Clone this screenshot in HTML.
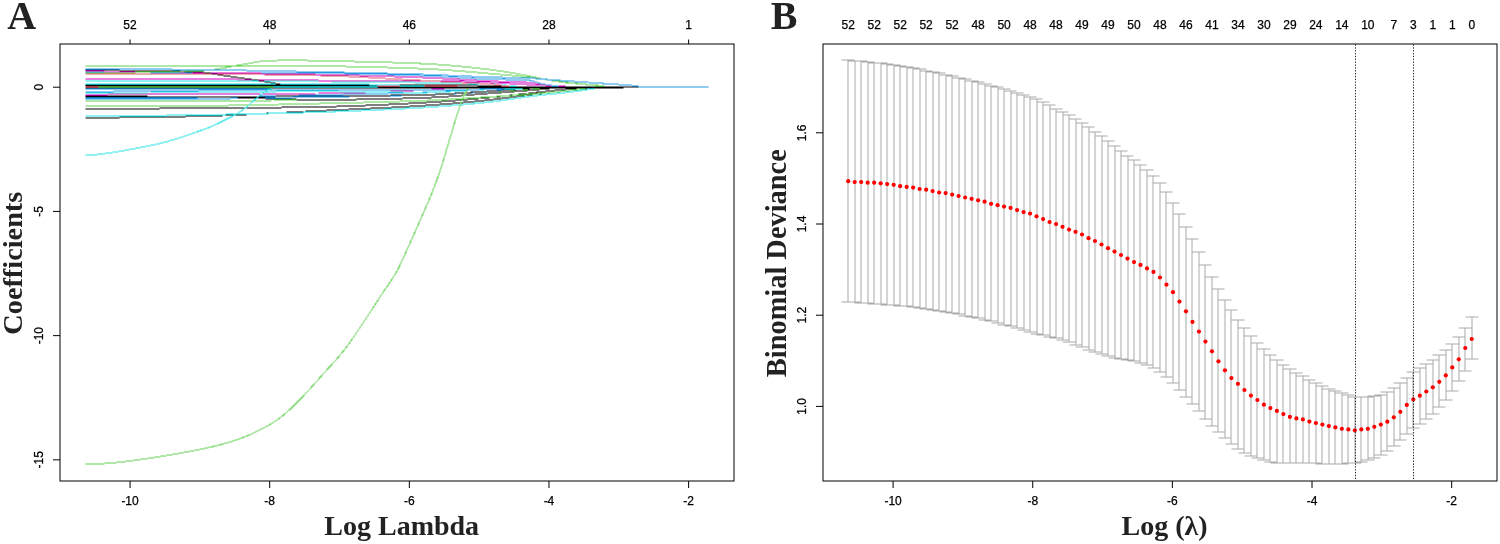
<!DOCTYPE html>
<html><head><meta charset="utf-8"><title>LASSO coefficient profiles and cross-validation</title>
<style>html,body{margin:0;padding:0;background:#fff;}svg{display:block;}</style></head>
<body>
<svg width="1500" height="544" viewBox="0 0 1500 544">
<rect x="0" y="0" width="1500" height="544" fill="#fff"/>
<defs><filter id="bx" filterUnits="userSpaceOnUse" x="0" y="0" width="1500" height="544"><feConvolveMatrix order="2" kernelMatrix="1 1 1 1" divisor="4" targetX="1" targetY="1" edgeMode="none"/></filter></defs>
<g fill="none" stroke-width="1" shape-rendering="crispEdges" filter="url(#bx)"><g transform="translate(-0.5 -0.5)">
<path d="M85.14 118 L91.63 117.9 L98.13 117.81 L104.62 117.72 L111.12 117.63 L117.62 117.54 L124.11 117.45 L130.61 117.37 L137.1 117.28 L143.6 117.19 L150.09 117.1 L156.59 117.01 L163.08 116.91 L169.58 116.8 L176.08 116.69 L182.57 116.57 L189.07 116.44 L195.56 116.3 L202.06 116.15 L208.55 115.98 L215.05 115.78 L221.55 115.55 L228.04 115.31 L234.54 115.04 L241.03 114.76 L247.53 114.46 L254.02 114.15 L260.52 113.83 L267.02 113.5 L273.51 113.17 L280.01 112.83 L286.5 112.49 L293 112.15 L299.49 111.81 L305.99 111.48 L312.48 111.16 L318.98 110.85 L325.48 110.55 L331.97 110.25 L338.47 109.96 L344.96 109.67 L351.46 109.39 L357.95 109.1 L364.45 108.81 L370.95 108.51 L377.44 108.21 L383.94 107.9 L390.43 107.57 L396.93 107.24 L403.42 106.88 L409.92 106.51 L416.41 106.12 L422.91 105.71 L429.41 105.27 L435.9 104.8 L442.4 104.3 L448.89 103.78 L455.39 103.23 L461.88 102.65 L468.38 102.05 L474.88 101.43 L481.37 100.78 L487.87 100.12 L494.36 99.42 L500.86 98.63 L507.35 97.77 L513.85 96.89 L520.34 96.01 L526.84 95.18 L533.34 94.41 L539.83 93.68 L546.33 92.96 L552.82 92.27 L559.32 91.59 L565.81 90.92 L572.31 90.26 L578.81 89.48 L585.3 88.67 L591.8 87.94 L598.29 87.41 L604.79 87.2 L611.28 87.2 L617.78 87.2 L624.27 87.2 L630.77 87.2 L637.27 87.2 L643.76 87.2 L650.26 87.2 L656.75 87.2 L663.25 87.2 L669.74 87.2 L676.24 87.2 L682.74 87.2 L689.23 87.2 L695.73 87.2 L702.22 87.2 L708.72 87.2" stroke="#000000"/>
<path d="M85.14 116.5 L91.63 116.42 L98.13 116.34 L104.62 116.26 L111.12 116.18 L117.62 116.1 L124.11 116.03 L130.61 115.95 L137.1 115.87 L143.6 115.8 L150.09 115.72 L156.59 115.64 L163.08 115.55 L169.58 115.46 L176.08 115.37 L182.57 115.28 L189.07 115.18 L195.56 115.07 L202.06 114.96 L208.55 114.85 L215.05 114.73 L221.55 114.6 L228.04 114.46 L234.54 114.32 L241.03 114.18 L247.53 114.03 L254.02 113.87 L260.52 113.71 L267.02 113.54 L273.51 113.37 L280.01 113.19 L286.5 113.01 L293 112.82 L299.49 112.63 L305.99 112.44 L312.48 112.24 L318.98 112.03 L325.48 111.82 L331.97 111.61 L338.47 111.38 L344.96 111.15 L351.46 110.91 L357.95 110.66 L364.45 110.4 L370.95 110.13 L377.44 109.85 L383.94 109.56 L390.43 109.26 L396.93 108.94 L403.42 108.61 L409.92 108.26 L416.41 107.9 L422.91 107.53 L429.41 107.12 L435.9 106.69 L442.4 106.22 L448.89 105.72 L455.39 105.19 L461.88 104.63 L468.38 104.04 L474.88 103.43 L481.37 102.79 L487.87 102.12 L494.36 101.4 L500.86 100.56 L507.35 99.63 L513.85 98.66 L520.34 97.7 L526.84 96.8 L533.34 96 L539.83 95.25 L546.33 94.54 L552.82 93.85 L559.32 93.16 L565.81 92.46 L572.31 91.73 L578.81 90.84 L585.3 89.86 L591.8 88.9 L598.29 88.06 L604.79 87.46 L611.28 87.2 L617.78 87.2 L624.27 87.2 L630.77 87.2 L637.27 87.2 L643.76 87.2 L650.26 87.2 L656.75 87.2 L663.25 87.2 L669.74 87.2 L676.24 87.2 L682.74 87.2 L689.23 87.2 L695.73 87.2 L702.22 87.2 L708.72 87.2" stroke="#28E2E5"/>
<path d="M85.14 108.8 L91.63 108.77 L98.13 108.75 L104.62 108.72 L111.12 108.7 L117.62 108.67 L124.11 108.65 L130.61 108.62 L137.1 108.6 L143.6 108.57 L150.09 108.55 L156.59 108.52 L163.08 108.49 L169.58 108.46 L176.08 108.43 L182.57 108.4 L189.07 108.37 L195.56 108.33 L202.06 108.29 L208.55 108.24 L215.05 108.2 L221.55 108.15 L228.04 108.09 L234.54 108.04 L241.03 107.98 L247.53 107.91 L254.02 107.85 L260.52 107.77 L267.02 107.7 L273.51 107.62 L280.01 107.53 L286.5 107.44 L293 107.35 L299.49 107.25 L305.99 107.14 L312.48 107.03 L318.98 106.92 L325.48 106.79 L331.97 106.64 L338.47 106.46 L344.96 106.27 L351.46 106.05 L357.95 105.82 L364.45 105.57 L370.95 105.3 L377.44 105.02 L383.94 104.72 L390.43 104.42 L396.93 104.1 L403.42 103.77 L409.92 103.43 L416.41 103.09 L422.91 102.74 L429.41 102.35 L435.9 101.93 L442.4 101.48 L448.89 101 L455.39 100.49 L461.88 99.96 L468.38 99.41 L474.88 98.85 L481.37 98.27 L487.87 97.69 L494.36 97.09 L500.86 96.45 L507.35 95.77 L513.85 95.07 L520.34 94.35 L526.84 93.64 L533.34 92.93 L539.83 92.18 L546.33 91.42 L552.82 90.69 L559.32 90.06 L565.81 89.47 L572.31 88.86 L578.81 88.27 L585.3 87.76 L591.8 87.39 L598.29 87.21 L604.79 87.2 L611.28 87.2 L617.78 87.2 L624.27 87.2 L630.77 87.2 L637.27 87.2 L643.76 87.2 L650.26 87.2 L656.75 87.2 L663.25 87.2 L669.74 87.2 L676.24 87.2 L682.74 87.2 L689.23 87.2 L695.73 87.2 L702.22 87.2 L708.72 87.2" stroke="#000000"/>
<path d="M85.14 105.6 L91.63 105.61 L98.13 105.61 L104.62 105.62 L111.12 105.63 L117.62 105.63 L124.11 105.64 L130.61 105.65 L137.1 105.66 L143.6 105.66 L150.09 105.67 L156.59 105.68 L163.08 105.68 L169.58 105.69 L176.08 105.69 L182.57 105.7 L189.07 105.7 L195.56 105.7 L202.06 105.7 L208.55 105.68 L215.05 105.64 L221.55 105.58 L228.04 105.51 L234.54 105.41 L241.03 105.31 L247.53 105.19 L254.02 105.06 L260.52 104.92 L267.02 104.77 L273.51 104.62 L280.01 104.46 L286.5 104.3 L293 104.14 L299.49 103.98 L305.99 103.82 L312.48 103.67 L318.98 103.52 L325.48 103.38 L331.97 103.24 L338.47 103.09 L344.96 102.94 L351.46 102.79 L357.95 102.64 L364.45 102.48 L370.95 102.32 L377.44 102.14 L383.94 101.96 L390.43 101.78 L396.93 101.58 L403.42 101.38 L409.92 101.16 L416.41 100.93 L422.91 100.69 L429.41 100.41 L435.9 100.11 L442.4 99.77 L448.89 99.42 L455.39 99.04 L461.88 98.65 L468.38 98.25 L474.88 97.84 L481.37 97.44 L487.87 97.03 L494.36 96.63 L500.86 96.23 L507.35 95.82 L513.85 95.4 L520.34 94.97 L526.84 94.51 L533.34 94.03 L539.83 93.51 L546.33 92.94 L552.82 92.3 L559.32 91.62 L565.81 90.93 L572.31 90.25 L578.81 89.42 L585.3 88.54 L591.8 87.77 L598.29 87.28 L604.79 87.2 L611.28 87.2 L617.78 87.2 L624.27 87.2 L630.77 87.2 L637.27 87.2 L643.76 87.2 L650.26 87.2 L656.75 87.2 L663.25 87.2 L669.74 87.2 L676.24 87.2 L682.74 87.2 L689.23 87.2 L695.73 87.2 L702.22 87.2 L708.72 87.2" stroke="#61D04F"/>
<path d="M85.14 101.3 L91.63 101.28 L98.13 101.27 L104.62 101.25 L111.12 101.24 L117.62 101.22 L124.11 101.21 L130.61 101.2 L137.1 101.18 L143.6 101.17 L150.09 101.15 L156.59 101.14 L163.08 101.12 L169.58 101.1 L176.08 101.08 L182.57 101.06 L189.07 101.04 L195.56 101.02 L202.06 100.99 L208.55 100.96 L215.05 100.93 L221.55 100.9 L228.04 100.86 L234.54 100.81 L241.03 100.77 L247.53 100.72 L254.02 100.67 L260.52 100.61 L267.02 100.56 L273.51 100.5 L280.01 100.44 L286.5 100.37 L293 100.3 L299.49 100.23 L305.99 100.16 L312.48 100.09 L318.98 100.01 L325.48 99.93 L331.97 99.85 L338.47 99.76 L344.96 99.67 L351.46 99.57 L357.95 99.46 L364.45 99.35 L370.95 99.23 L377.44 99.1 L383.94 98.96 L390.43 98.81 L396.93 98.66 L403.42 98.49 L409.92 98.31 L416.41 98.11 L422.91 97.9 L429.41 97.63 L435.9 97.29 L442.4 96.91 L448.89 96.48 L455.39 96.02 L461.88 95.52 L468.38 95.02 L474.88 94.5 L481.37 93.98 L487.87 93.47 L494.36 92.95 L500.86 92.41 L507.35 91.84 L513.85 91.25 L520.34 90.66 L526.84 90.08 L533.34 89.48 L539.83 88.76 L546.33 88.03 L552.82 87.46 L559.32 87.2 L565.81 87.2 L572.31 87.2 L578.81 87.2 L585.3 87.2 L591.8 87.2 L598.29 87.2 L604.79 87.2 L611.28 87.2 L617.78 87.2 L624.27 87.2 L630.77 87.2 L637.27 87.2 L643.76 87.2 L650.26 87.2 L656.75 87.2 L663.25 87.2 L669.74 87.2 L676.24 87.2 L682.74 87.2 L689.23 87.2 L695.73 87.2 L702.22 87.2 L708.72 87.2" stroke="#61D04F"/>
<path d="M85.14 99.2 L91.63 99.18 L98.13 99.16 L104.62 99.14 L111.12 99.12 L117.62 99.1 L124.11 99.08 L130.61 99.06 L137.1 99.05 L143.6 99.03 L150.09 99.01 L156.59 98.99 L163.08 98.97 L169.58 98.94 L176.08 98.92 L182.57 98.89 L189.07 98.86 L195.56 98.82 L202.06 98.79 L208.55 98.74 L215.05 98.69 L221.55 98.62 L228.04 98.54 L234.54 98.46 L241.03 98.37 L247.53 98.27 L254.02 98.17 L260.52 98.07 L267.02 97.95 L273.51 97.84 L280.01 97.72 L286.5 97.6 L293 97.49 L299.49 97.37 L305.99 97.25 L312.48 97.13 L318.98 97.02 L325.48 96.91 L331.97 96.8 L338.47 96.69 L344.96 96.59 L351.46 96.48 L357.95 96.37 L364.45 96.26 L370.95 96.14 L377.44 96.02 L383.94 95.89 L390.43 95.75 L396.93 95.61 L403.42 95.45 L409.92 95.28 L416.41 95.1 L422.91 94.91 L429.41 94.7 L435.9 94.46 L442.4 94.19 L448.89 93.9 L455.39 93.58 L461.88 93.23 L468.38 92.84 L474.88 92.42 L481.37 91.96 L487.87 91.47 L494.36 90.81 L500.86 89.72 L507.35 88.52 L513.85 87.57 L520.34 87.2 L526.84 87.2 L533.34 87.2 L539.83 87.2 L546.33 87.2 L552.82 87.2 L559.32 87.2 L565.81 87.2 L572.31 87.2 L578.81 87.2 L585.3 87.2 L591.8 87.2 L598.29 87.2 L604.79 87.2 L611.28 87.2 L617.78 87.2 L624.27 87.2 L630.77 87.2 L637.27 87.2 L643.76 87.2 L650.26 87.2 L656.75 87.2 L663.25 87.2 L669.74 87.2 L676.24 87.2 L682.74 87.2 L689.23 87.2 L695.73 87.2 L702.22 87.2 L708.72 87.2" stroke="#2297E6"/>
<path d="M85.14 98 L91.63 97.97 L98.13 97.95 L104.62 97.92 L111.12 97.9 L117.62 97.88 L124.11 97.85 L130.61 97.83 L137.1 97.81 L143.6 97.79 L150.09 97.76 L156.59 97.74 L163.08 97.71 L169.58 97.68 L176.08 97.65 L182.57 97.61 L189.07 97.57 L195.56 97.53 L202.06 97.48 L208.55 97.42 L215.05 97.35 L221.55 97.25 L228.04 97.15 L234.54 97.03 L241.03 96.9 L247.53 96.76 L254.02 96.62 L260.52 96.47 L267.02 96.31 L273.51 96.15 L280.01 95.98 L286.5 95.82 L293 95.65 L299.49 95.49 L305.99 95.33 L312.48 95.17 L318.98 95.02 L325.48 94.88 L331.97 94.74 L338.47 94.6 L344.96 94.47 L351.46 94.34 L357.95 94.2 L364.45 94.06 L370.95 93.92 L377.44 93.78 L383.94 93.62 L390.43 93.46 L396.93 93.29 L403.42 93.11 L409.92 92.92 L416.41 92.72 L422.91 92.5 L429.41 92.25 L435.9 91.97 L442.4 91.66 L448.89 91.33 L455.39 90.98 L461.88 90.61 L468.38 90.22 L474.88 89.82 L481.37 89.41 L487.87 88.84 L494.36 88.18 L500.86 87.59 L507.35 87.24 L513.85 87.2 L520.34 87.2 L526.84 87.2 L533.34 87.2 L539.83 87.2 L546.33 87.2 L552.82 87.2 L559.32 87.2 L565.81 87.2 L572.31 87.2 L578.81 87.2 L585.3 87.2 L591.8 87.2 L598.29 87.2 L604.79 87.2 L611.28 87.2 L617.78 87.2 L624.27 87.2 L630.77 87.2 L637.27 87.2 L643.76 87.2 L650.26 87.2 L656.75 87.2 L663.25 87.2 L669.74 87.2 L676.24 87.2 L682.74 87.2 L689.23 87.2 L695.73 87.2 L702.22 87.2 L708.72 87.2" stroke="#2297E6"/>
<path d="M85.14 97.1 L91.63 97.08 L98.13 97.06 L104.62 97.04 L111.12 97.02 L117.62 97 L124.11 96.98 L130.61 96.95 L137.1 96.93 L143.6 96.91 L150.09 96.89 L156.59 96.87 L163.08 96.85 L169.58 96.84 L176.08 96.82 L182.57 96.81 L189.07 96.81 L195.56 96.8 L202.06 96.8 L208.55 96.84 L215.05 96.93 L221.55 97.06 L228.04 97.21 L234.54 97.4 L241.03 97.61 L247.53 97.84 L254.02 98.08 L260.52 98.32 L267.02 98.56 L273.51 98.8 L280.01 99.02 L286.5 99.23 L293 99.41 L299.49 99.57 L305.99 99.69 L312.48 99.77 L318.98 99.8 L325.48 99.79 L331.97 99.77 L338.47 99.72 L344.96 99.66 L351.46 99.58 L357.95 99.48 L364.45 99.37 L370.95 99.25 L377.44 99.11 L383.94 98.97 L390.43 98.81 L396.93 98.64 L403.42 98.47 L409.92 98.29 L416.41 98.1 L422.91 97.91 L429.41 97.64 L435.9 97.3 L442.4 96.91 L448.89 96.47 L455.39 95.99 L461.88 95.49 L468.38 94.97 L474.88 94.45 L481.37 93.94 L487.87 93.45 L494.36 92.99 L500.86 92.52 L507.35 92.05 L513.85 91.56 L520.34 91.07 L526.84 90.57 L533.34 90.05 L539.83 89.51 L546.33 88.84 L552.82 88.05 L559.32 87.42 L565.81 87.2 L572.31 87.2 L578.81 87.2 L585.3 87.2 L591.8 87.2 L598.29 87.2 L604.79 87.2 L611.28 87.2 L617.78 87.2 L624.27 87.2 L630.77 87.2 L637.27 87.2 L643.76 87.2 L650.26 87.2 L656.75 87.2 L663.25 87.2 L669.74 87.2 L676.24 87.2 L682.74 87.2 L689.23 87.2 L695.73 87.2 L702.22 87.2 L708.72 87.2" stroke="#000000"/>
<path d="M85.14 95.9 L91.63 95.95 L98.13 96.01 L104.62 96.07 L111.12 96.14 L117.62 96.21 L124.11 96.27 L130.61 96.34 L137.1 96.41 L143.6 96.47 L150.09 96.53 L156.59 96.59 L163.08 96.64 L169.58 96.69 L176.08 96.73 L182.57 96.76 L189.07 96.78 L195.56 96.8 L202.06 96.8 L208.55 96.8 L215.05 96.79 L221.55 96.77 L228.04 96.75 L234.54 96.73 L241.03 96.7 L247.53 96.67 L254.02 96.64 L260.52 96.6 L267.02 96.57 L273.51 96.53 L280.01 96.48 L286.5 96.44 L293 96.39 L299.49 96.35 L305.99 96.3 L312.48 96.25 L318.98 96.21 L325.48 96.16 L331.97 96.11 L338.47 96.06 L344.96 96.01 L351.46 95.95 L357.95 95.89 L364.45 95.82 L370.95 95.75 L377.44 95.68 L383.94 95.6 L390.43 95.51 L396.93 95.41 L403.42 95.31 L409.92 95.19 L416.41 95.07 L422.91 94.93 L429.41 94.74 L435.9 94.49 L442.4 94.19 L448.89 93.85 L455.39 93.48 L461.88 93.09 L468.38 92.68 L474.88 92.26 L481.37 91.84 L487.87 91.43 L494.36 91.02 L500.86 90.59 L507.35 90.12 L513.85 89.65 L520.34 89.18 L526.84 88.72 L533.34 88.25 L539.83 87.7 L546.33 87.28 L552.82 87.2 L559.32 87.2 L565.81 87.2 L572.31 87.2 L578.81 87.2 L585.3 87.2 L591.8 87.2 L598.29 87.2 L604.79 87.2 L611.28 87.2 L617.78 87.2 L624.27 87.2 L630.77 87.2 L637.27 87.2 L643.76 87.2 L650.26 87.2 L656.75 87.2 L663.25 87.2 L669.74 87.2 L676.24 87.2 L682.74 87.2 L689.23 87.2 L695.73 87.2 L702.22 87.2 L708.72 87.2" stroke="#000000"/>
<path d="M85.14 94.7 L91.63 94.65 L98.13 94.59 L104.62 94.54 L111.12 94.48 L117.62 94.42 L124.11 94.36 L130.61 94.3 L137.1 94.24 L143.6 94.18 L150.09 94.13 L156.59 94.07 L163.08 94.02 L169.58 93.97 L176.08 93.93 L182.57 93.89 L189.07 93.85 L195.56 93.82 L202.06 93.79 L208.55 93.77 L215.05 93.75 L221.55 93.73 L228.04 93.72 L234.54 93.71 L241.03 93.7 L247.53 93.68 L254.02 93.67 L260.52 93.66 L267.02 93.65 L273.51 93.64 L280.01 93.63 L286.5 93.61 L293 93.6 L299.49 93.58 L305.99 93.56 L312.48 93.53 L318.98 93.5 L325.48 93.46 L331.97 93.38 L338.47 93.27 L344.96 93.12 L351.46 92.95 L357.95 92.76 L364.45 92.54 L370.95 92.3 L377.44 92.05 L383.94 91.79 L390.43 91.51 L396.93 91.23 L403.42 90.94 L409.92 90.65 L416.41 90.36 L422.91 90.06 L429.41 89.65 L435.9 89.16 L442.4 88.63 L448.89 88.13 L455.39 87.69 L461.88 87.36 L468.38 87.21 L474.88 87.2 L481.37 87.2 L487.87 87.2 L494.36 87.2 L500.86 87.2 L507.35 87.2 L513.85 87.2 L520.34 87.2 L526.84 87.2 L533.34 87.2 L539.83 87.2 L546.33 87.2 L552.82 87.2 L559.32 87.2 L565.81 87.2 L572.31 87.2 L578.81 87.2 L585.3 87.2 L591.8 87.2 L598.29 87.2 L604.79 87.2 L611.28 87.2 L617.78 87.2 L624.27 87.2 L630.77 87.2 L637.27 87.2 L643.76 87.2 L650.26 87.2 L656.75 87.2 L663.25 87.2 L669.74 87.2 L676.24 87.2 L682.74 87.2 L689.23 87.2 L695.73 87.2 L702.22 87.2 L708.72 87.2" stroke="#CD0BBC"/>
<path d="M85.14 93.3 L91.63 93.22 L98.13 93.15 L104.62 93.07 L111.12 92.99 L117.62 92.9 L124.11 92.82 L130.61 92.74 L137.1 92.66 L143.6 92.57 L150.09 92.5 L156.59 92.42 L163.08 92.34 L169.58 92.27 L176.08 92.21 L182.57 92.14 L189.07 92.08 L195.56 92.03 L202.06 91.99 L208.55 91.94 L215.05 91.89 L221.55 91.85 L228.04 91.8 L234.54 91.76 L241.03 91.71 L247.53 91.67 L254.02 91.63 L260.52 91.59 L267.02 91.56 L273.51 91.52 L280.01 91.49 L286.5 91.47 L293 91.44 L299.49 91.43 L305.99 91.41 L312.48 91.4 L318.98 91.4 L325.48 91.41 L331.97 91.45 L338.47 91.51 L344.96 91.59 L351.46 91.68 L357.95 91.79 L364.45 91.9 L370.95 92.02 L377.44 92.13 L383.94 92.24 L390.43 92.35 L396.93 92.44 L403.42 92.51 L409.92 92.57 L416.41 92.6 L422.91 92.59 L429.41 92.47 L435.9 92.26 L442.4 91.96 L448.89 91.6 L455.39 91.2 L461.88 90.79 L468.38 90.38 L474.88 89.99 L481.37 89.65 L487.87 89.37 L494.36 89.17 L500.86 89.01 L507.35 88.86 L513.85 88.72 L520.34 88.57 L526.84 88.4 L533.34 88.16 L539.83 87.81 L546.33 87.44 L552.82 87.22 L559.32 87.2 L565.81 87.2 L572.31 87.2 L578.81 87.2 L585.3 87.2 L591.8 87.2 L598.29 87.2 L604.79 87.2 L611.28 87.2 L617.78 87.2 L624.27 87.2 L630.77 87.2 L637.27 87.2 L643.76 87.2 L650.26 87.2 L656.75 87.2 L663.25 87.2 L669.74 87.2 L676.24 87.2 L682.74 87.2 L689.23 87.2 L695.73 87.2 L702.22 87.2 L708.72 87.2" stroke="#28E2E5"/>
<path d="M85.14 91.9 L91.63 91.82 L98.13 91.73 L104.62 91.64 L111.12 91.55 L117.62 91.45 L124.11 91.35 L130.61 91.26 L137.1 91.16 L143.6 91.07 L150.09 90.98 L156.59 90.89 L163.08 90.81 L169.58 90.74 L176.08 90.67 L182.57 90.61 L189.07 90.56 L195.56 90.52 L202.06 90.49 L208.55 90.46 L215.05 90.44 L221.55 90.41 L228.04 90.39 L234.54 90.37 L241.03 90.34 L247.53 90.32 L254.02 90.3 L260.52 90.29 L267.02 90.27 L273.51 90.25 L280.01 90.24 L286.5 90.23 L293 90.22 L299.49 90.21 L305.99 90.21 L312.48 90.2 L318.98 90.2 L325.48 90.2 L331.97 90.2 L338.47 90.2 L344.96 90.2 L351.46 90.2 L357.95 90.2 L364.45 90.2 L370.95 90.2 L377.44 90.2 L383.94 90.2 L390.43 90.2 L396.93 90.2 L403.42 90.2 L409.92 90.2 L416.41 90.2 L422.91 90.2 L429.41 90.18 L435.9 90.14 L442.4 90.09 L448.89 90.02 L455.39 89.94 L461.88 89.84 L468.38 89.73 L474.88 89.61 L481.37 89.48 L487.87 89.35 L494.36 89.15 L500.86 88.79 L507.35 88.34 L513.85 87.87 L520.34 87.47 L526.84 87.23 L533.34 87.2 L539.83 87.2 L546.33 87.2 L552.82 87.2 L559.32 87.2 L565.81 87.2 L572.31 87.2 L578.81 87.2 L585.3 87.2 L591.8 87.2 L598.29 87.2 L604.79 87.2 L611.28 87.2 L617.78 87.2 L624.27 87.2 L630.77 87.2 L637.27 87.2 L643.76 87.2 L650.26 87.2 L656.75 87.2 L663.25 87.2 L669.74 87.2 L676.24 87.2 L682.74 87.2 L689.23 87.2 L695.73 87.2 L702.22 87.2 L708.72 87.2" stroke="#2297E6"/>
<path d="M85.14 89.3 L91.63 89.28 L98.13 89.27 L104.62 89.25 L111.12 89.24 L117.62 89.22 L124.11 89.21 L130.61 89.19 L137.1 89.18 L143.6 89.16 L150.09 89.15 L156.59 89.13 L163.08 89.11 L169.58 89.1 L176.08 89.08 L182.57 89.06 L189.07 89.04 L195.56 89.02 L202.06 88.99 L208.55 88.96 L215.05 88.93 L221.55 88.89 L228.04 88.84 L234.54 88.8 L241.03 88.75 L247.53 88.7 L254.02 88.64 L260.52 88.59 L267.02 88.54 L273.51 88.49 L280.01 88.45 L286.5 88.41 L293 88.37 L299.49 88.34 L305.99 88.32 L312.48 88.31 L318.98 88.3 L325.48 88.3 L331.97 88.3 L338.47 88.3 L344.96 88.3 L351.46 88.3 L357.95 88.3 L364.45 88.3 L370.95 88.3 L377.44 88.3 L383.94 88.3 L390.43 88.3 L396.93 88.3 L403.42 88.3 L409.92 88.3 L416.41 88.3 L422.91 88.29 L429.41 88.23 L435.9 88.11 L442.4 87.95 L448.89 87.78 L455.39 87.6 L461.88 87.44 L468.38 87.31 L474.88 87.22 L481.37 87.2 L487.87 87.2 L494.36 87.2 L500.86 87.2 L507.35 87.2 L513.85 87.2 L520.34 87.2 L526.84 87.2 L533.34 87.2 L539.83 87.2 L546.33 87.2 L552.82 87.2 L559.32 87.2 L565.81 87.2 L572.31 87.2 L578.81 87.2 L585.3 87.2 L591.8 87.2 L598.29 87.2 L604.79 87.2 L611.28 87.2 L617.78 87.2 L624.27 87.2 L630.77 87.2 L637.27 87.2 L643.76 87.2 L650.26 87.2 L656.75 87.2 L663.25 87.2 L669.74 87.2 L676.24 87.2 L682.74 87.2 L689.23 87.2 L695.73 87.2 L702.22 87.2 L708.72 87.2" stroke="#2297E6"/>
<path d="M85.14 87.4 L91.63 87.4 L98.13 87.4 L104.62 87.4 L111.12 87.4 L117.62 87.4 L124.11 87.4 L130.61 87.4 L137.1 87.4 L143.6 87.4 L150.09 87.4 L156.59 87.4 L163.08 87.4 L169.58 87.4 L176.08 87.4 L182.57 87.4 L189.07 87.4 L195.56 87.4 L202.06 87.4 L208.55 87.4 L215.05 87.4 L221.55 87.4 L228.04 87.4 L234.54 87.4 L241.03 87.4 L247.53 87.4 L254.02 87.4 L260.52 87.38 L267.02 87.35 L273.51 87.31 L280.01 87.27 L286.5 87.24 L293 87.21 L299.49 87.2 L305.99 87.2 L312.48 87.2 L318.98 87.2 L325.48 87.2 L331.97 87.2 L338.47 87.2 L344.96 87.2 L351.46 87.2 L357.95 87.2 L364.45 87.2 L370.95 87.2 L377.44 87.2 L383.94 87.2 L390.43 87.2 L396.93 87.2 L403.42 87.2 L409.92 87.2 L416.41 87.2 L422.91 87.2 L429.41 87.2 L435.9 87.2 L442.4 87.2 L448.89 87.2 L455.39 87.2 L461.88 87.2 L468.38 87.2 L474.88 87.2 L481.37 87.2 L487.87 87.2 L494.36 87.2 L500.86 87.2 L507.35 87.2 L513.85 87.2 L520.34 87.2 L526.84 87.2 L533.34 87.2 L539.83 87.2 L546.33 87.2 L552.82 87.2 L559.32 87.2 L565.81 87.2 L572.31 87.2 L578.81 87.2 L585.3 87.2 L591.8 87.2 L598.29 87.2 L604.79 87.2 L611.28 87.2 L617.78 87.2 L624.27 87.2 L630.77 87.2 L637.27 87.2 L643.76 87.2 L650.26 87.2 L656.75 87.2 L663.25 87.2 L669.74 87.2 L676.24 87.2 L682.74 87.2 L689.23 87.2 L695.73 87.2 L702.22 87.2 L708.72 87.2" stroke="#61D04F"/>
<path d="M85.14 86.6 L91.63 86.56 L98.13 86.51 L104.62 86.46 L111.12 86.41 L117.62 86.36 L124.11 86.31 L130.61 86.26 L137.1 86.2 L143.6 86.15 L150.09 86.11 L156.59 86.06 L163.08 86.02 L169.58 85.99 L176.08 85.95 L182.57 85.93 L189.07 85.91 L195.56 85.9 L202.06 85.9 L208.55 85.9 L215.05 85.9 L221.55 85.9 L228.04 85.9 L234.54 85.9 L241.03 85.9 L247.53 85.9 L254.02 85.9 L260.52 85.9 L267.02 85.9 L273.51 85.9 L280.01 85.9 L286.5 85.9 L293 85.9 L299.49 85.9 L305.99 85.9 L312.48 85.9 L318.98 85.9 L325.48 85.9 L331.97 85.9 L338.47 85.9 L344.96 85.9 L351.46 85.9 L357.95 85.9 L364.45 85.9 L370.95 85.9 L377.44 85.9 L383.94 85.9 L390.43 85.9 L396.93 85.9 L403.42 85.9 L409.92 85.9 L416.41 85.9 L422.91 85.91 L429.41 85.95 L435.9 86.03 L442.4 86.15 L448.89 86.29 L455.39 86.44 L461.88 86.6 L468.38 86.75 L474.88 86.9 L481.37 87.02 L487.87 87.12 L494.36 87.18 L500.86 87.2 L507.35 87.2 L513.85 87.2 L520.34 87.2 L526.84 87.2 L533.34 87.2 L539.83 87.2 L546.33 87.2 L552.82 87.2 L559.32 87.2 L565.81 87.2 L572.31 87.2 L578.81 87.2 L585.3 87.2 L591.8 87.2 L598.29 87.2 L604.79 87.2 L611.28 87.2 L617.78 87.2 L624.27 87.2 L630.77 87.2 L637.27 87.2 L643.76 87.2 L650.26 87.2 L656.75 87.2 L663.25 87.2 L669.74 87.2 L676.24 87.2 L682.74 87.2 L689.23 87.2 L695.73 87.2 L702.22 87.2 L708.72 87.2" stroke="#DF536B"/>
<path d="M85.14 85.6 L91.63 85.61 L98.13 85.62 L104.62 85.63 L111.12 85.64 L117.62 85.65 L124.11 85.66 L130.61 85.67 L137.1 85.67 L143.6 85.68 L150.09 85.69 L156.59 85.7 L163.08 85.7 L169.58 85.71 L176.08 85.72 L182.57 85.73 L189.07 85.74 L195.56 85.74 L202.06 85.75 L208.55 85.76 L215.05 85.77 L221.55 85.78 L228.04 85.79 L234.54 85.8 L241.03 85.81 L247.53 85.82 L254.02 85.83 L260.52 85.85 L267.02 85.86 L273.51 85.87 L280.01 85.89 L286.5 85.9 L293 85.92 L299.49 85.94 L305.99 85.96 L312.48 85.98 L318.98 86 L325.48 86.03 L331.97 86.08 L338.47 86.15 L344.96 86.23 L351.46 86.33 L357.95 86.44 L364.45 86.55 L370.95 86.66 L377.44 86.77 L383.94 86.87 L390.43 86.97 L396.93 87.05 L403.42 87.12 L409.92 87.17 L416.41 87.2 L422.91 87.2 L429.41 87.2 L435.9 87.2 L442.4 87.2 L448.89 87.2 L455.39 87.2 L461.88 87.2 L468.38 87.2 L474.88 87.2 L481.37 87.2 L487.87 87.2 L494.36 87.2 L500.86 87.2 L507.35 87.2 L513.85 87.2 L520.34 87.2 L526.84 87.2 L533.34 87.2 L539.83 87.2 L546.33 87.2 L552.82 87.2 L559.32 87.2 L565.81 87.2 L572.31 87.2 L578.81 87.2 L585.3 87.2 L591.8 87.2 L598.29 87.2 L604.79 87.2 L611.28 87.2 L617.78 87.2 L624.27 87.2 L630.77 87.2 L637.27 87.2 L643.76 87.2 L650.26 87.2 L656.75 87.2 L663.25 87.2 L669.74 87.2 L676.24 87.2 L682.74 87.2 L689.23 87.2 L695.73 87.2 L702.22 87.2 L708.72 87.2" stroke="#2297E6"/>
<path d="M85.14 84.5 L91.63 84.5 L98.13 84.5 L104.62 84.5 L111.12 84.5 L117.62 84.5 L124.11 84.5 L130.61 84.5 L137.1 84.5 L143.6 84.5 L150.09 84.5 L156.59 84.5 L163.08 84.5 L169.58 84.5 L176.08 84.5 L182.57 84.5 L189.07 84.5 L195.56 84.5 L202.06 84.5 L208.55 84.5 L215.05 84.5 L221.55 84.5 L228.04 84.5 L234.54 84.5 L241.03 84.5 L247.53 84.5 L254.02 84.5 L260.52 84.5 L267.02 84.5 L273.51 84.5 L280.01 84.5 L286.5 84.5 L293 84.5 L299.49 84.5 L305.99 84.5 L312.48 84.5 L318.98 84.5 L325.48 84.5 L331.97 84.5 L338.47 84.51 L344.96 84.51 L351.46 84.52 L357.95 84.53 L364.45 84.54 L370.95 84.56 L377.44 84.57 L383.94 84.59 L390.43 84.6 L396.93 84.62 L403.42 84.64 L409.92 84.66 L416.41 84.69 L422.91 84.71 L429.41 84.75 L435.9 84.81 L442.4 84.88 L448.89 84.97 L455.39 85.07 L461.88 85.18 L468.38 85.31 L474.88 85.44 L481.37 85.59 L487.87 85.75 L494.36 85.96 L500.86 86.33 L507.35 86.74 L513.85 87.07 L520.34 87.2 L526.84 87.2 L533.34 87.2 L539.83 87.2 L546.33 87.2 L552.82 87.2 L559.32 87.2 L565.81 87.2 L572.31 87.2 L578.81 87.2 L585.3 87.2 L591.8 87.2 L598.29 87.2 L604.79 87.2 L611.28 87.2 L617.78 87.2 L624.27 87.2 L630.77 87.2 L637.27 87.2 L643.76 87.2 L650.26 87.2 L656.75 87.2 L663.25 87.2 L669.74 87.2 L676.24 87.2 L682.74 87.2 L689.23 87.2 L695.73 87.2 L702.22 87.2 L708.72 87.2" stroke="#000000"/>
<path d="M85.14 83.6 L91.63 83.63 L98.13 83.66 L104.62 83.7 L111.12 83.73 L117.62 83.77 L124.11 83.81 L130.61 83.85 L137.1 83.88 L143.6 83.92 L150.09 83.95 L156.59 83.98 L163.08 84.01 L169.58 84.04 L176.08 84.06 L182.57 84.08 L189.07 84.09 L195.56 84.1 L202.06 84.1 L208.55 84.09 L215.05 84.07 L221.55 84.05 L228.04 84.02 L234.54 83.98 L241.03 83.94 L247.53 83.89 L254.02 83.84 L260.52 83.8 L267.02 83.75 L273.51 83.7 L280.01 83.66 L286.5 83.61 L293 83.58 L299.49 83.55 L305.99 83.52 L312.48 83.51 L318.98 83.5 L325.48 83.52 L331.97 83.58 L338.47 83.67 L344.96 83.81 L351.46 83.97 L357.95 84.15 L364.45 84.35 L370.95 84.56 L377.44 84.77 L383.94 84.99 L390.43 85.2 L396.93 85.41 L403.42 85.61 L409.92 85.86 L416.41 86.15 L422.91 86.44 L429.41 86.72 L435.9 86.95 L442.4 87.12 L448.89 87.2 L455.39 87.2 L461.88 87.2 L468.38 87.2 L474.88 87.2 L481.37 87.2 L487.87 87.2 L494.36 87.2 L500.86 87.2 L507.35 87.2 L513.85 87.2 L520.34 87.2 L526.84 87.2 L533.34 87.2 L539.83 87.2 L546.33 87.2 L552.82 87.2 L559.32 87.2 L565.81 87.2 L572.31 87.2 L578.81 87.2 L585.3 87.2 L591.8 87.2 L598.29 87.2 L604.79 87.2 L611.28 87.2 L617.78 87.2 L624.27 87.2 L630.77 87.2 L637.27 87.2 L643.76 87.2 L650.26 87.2 L656.75 87.2 L663.25 87.2 L669.74 87.2 L676.24 87.2 L682.74 87.2 L689.23 87.2 L695.73 87.2 L702.22 87.2 L708.72 87.2" stroke="#28E2E5"/>
<path d="M85.14 80.7 L91.63 80.69 L98.13 80.68 L104.62 80.66 L111.12 80.65 L117.62 80.63 L124.11 80.62 L130.61 80.6 L137.1 80.59 L143.6 80.57 L150.09 80.56 L156.59 80.55 L163.08 80.53 L169.58 80.52 L176.08 80.52 L182.57 80.51 L189.07 80.5 L195.56 80.5 L202.06 80.5 L208.55 80.51 L215.05 80.52 L221.55 80.55 L228.04 80.58 L234.54 80.61 L241.03 80.66 L247.53 80.71 L254.02 80.76 L260.52 80.82 L267.02 80.87 L273.51 80.94 L280.01 81 L286.5 81.07 L293 81.13 L299.49 81.2 L305.99 81.26 L312.48 81.33 L318.98 81.39 L325.48 81.45 L331.97 81.51 L338.47 81.58 L344.96 81.64 L351.46 81.71 L357.95 81.78 L364.45 81.85 L370.95 81.93 L377.44 82 L383.94 82.09 L390.43 82.17 L396.93 82.26 L403.42 82.35 L409.92 82.44 L416.41 82.54 L422.91 82.65 L429.41 82.75 L435.9 82.86 L442.4 82.97 L448.89 83.09 L455.39 83.23 L461.88 83.37 L468.38 83.53 L474.88 83.71 L481.37 83.9 L487.87 84.12 L494.36 84.43 L500.86 84.96 L507.35 85.61 L513.85 86.27 L520.34 86.83 L526.84 87.16 L533.34 87.2 L539.83 87.2 L546.33 87.2 L552.82 87.2 L559.32 87.2 L565.81 87.2 L572.31 87.2 L578.81 87.2 L585.3 87.2 L591.8 87.2 L598.29 87.2 L604.79 87.2 L611.28 87.2 L617.78 87.2 L624.27 87.2 L630.77 87.2 L637.27 87.2 L643.76 87.2 L650.26 87.2 L656.75 87.2 L663.25 87.2 L669.74 87.2 L676.24 87.2 L682.74 87.2 L689.23 87.2 L695.73 87.2 L702.22 87.2 L708.72 87.2" stroke="#28E2E5"/>
<path d="M85.14 79.5 L91.63 79.48 L98.13 79.46 L104.62 79.44 L111.12 79.42 L117.62 79.4 L124.11 79.38 L130.61 79.35 L137.1 79.33 L143.6 79.31 L150.09 79.29 L156.59 79.27 L163.08 79.25 L169.58 79.24 L176.08 79.22 L182.57 79.21 L189.07 79.21 L195.56 79.2 L202.06 79.2 L208.55 79.22 L215.05 79.26 L221.55 79.31 L228.04 79.38 L234.54 79.46 L241.03 79.55 L247.53 79.65 L254.02 79.75 L260.52 79.86 L267.02 79.96 L273.51 80.07 L280.01 80.16 L286.5 80.25 L293 80.33 L299.49 80.4 L305.99 80.45 L312.48 80.49 L318.98 80.5 L325.48 80.5 L331.97 80.5 L338.47 80.5 L344.96 80.5 L351.46 80.5 L357.95 80.5 L364.45 80.5 L370.95 80.5 L377.44 80.5 L383.94 80.5 L390.43 80.5 L396.93 80.5 L403.42 80.5 L409.92 80.5 L416.41 80.5 L422.91 80.51 L429.41 80.56 L435.9 80.65 L442.4 80.79 L448.89 80.97 L455.39 81.17 L461.88 81.4 L468.38 81.65 L474.88 81.9 L481.37 82.16 L487.87 82.42 L494.36 82.68 L500.86 83.01 L507.35 83.38 L513.85 83.76 L520.34 84.16 L526.84 84.53 L533.34 84.87 L539.83 85.21 L546.33 85.53 L552.82 85.85 L559.32 86.17 L565.81 86.52 L572.31 86.9 L578.81 87.16 L585.3 87.2 L591.8 87.2 L598.29 87.2 L604.79 87.2 L611.28 87.2 L617.78 87.2 L624.27 87.2 L630.77 87.2 L637.27 87.2 L643.76 87.2 L650.26 87.2 L656.75 87.2 L663.25 87.2 L669.74 87.2 L676.24 87.2 L682.74 87.2 L689.23 87.2 L695.73 87.2 L702.22 87.2 L708.72 87.2" stroke="#CD0BBC"/>
<path d="M85.14 74.5 L91.63 74.47 L98.13 74.44 L104.62 74.4 L111.12 74.37 L117.62 74.33 L124.11 74.29 L130.61 74.25 L137.1 74.22 L143.6 74.18 L150.09 74.15 L156.59 74.12 L163.08 74.09 L169.58 74.06 L176.08 74.04 L182.57 74.02 L189.07 74.01 L195.56 74 L202.06 74 L208.55 74.01 L215.05 74.03 L221.55 74.06 L228.04 74.11 L234.54 74.16 L241.03 74.22 L247.53 74.29 L254.02 74.37 L260.52 74.45 L267.02 74.54 L273.51 74.64 L280.01 74.75 L286.5 74.86 L293 74.98 L299.49 75.1 L305.99 75.22 L312.48 75.35 L318.98 75.48 L325.48 75.63 L331.97 75.82 L338.47 76.06 L344.96 76.32 L351.46 76.63 L357.95 76.95 L364.45 77.3 L370.95 77.67 L377.44 78.04 L383.94 78.43 L390.43 78.82 L396.93 79.2 L403.42 79.59 L409.92 79.96 L416.41 80.31 L422.91 80.65 L429.41 80.97 L435.9 81.27 L442.4 81.58 L448.89 81.88 L455.39 82.19 L461.88 82.51 L468.38 82.85 L474.88 83.22 L481.37 83.61 L487.87 84.05 L494.36 84.6 L500.86 85.41 L507.35 86.27 L513.85 86.95 L520.34 87.2 L526.84 87.2 L533.34 87.2 L539.83 87.2 L546.33 87.2 L552.82 87.2 L559.32 87.2 L565.81 87.2 L572.31 87.2 L578.81 87.2 L585.3 87.2 L591.8 87.2 L598.29 87.2 L604.79 87.2 L611.28 87.2 L617.78 87.2 L624.27 87.2 L630.77 87.2 L637.27 87.2 L643.76 87.2 L650.26 87.2 L656.75 87.2 L663.25 87.2 L669.74 87.2 L676.24 87.2 L682.74 87.2 L689.23 87.2 L695.73 87.2 L702.22 87.2 L708.72 87.2" stroke="#DF536B"/>
<path d="M85.14 72.4 L91.63 72.41 L98.13 72.42 L104.62 72.43 L111.12 72.44 L117.62 72.45 L124.11 72.46 L130.61 72.47 L137.1 72.48 L143.6 72.49 L150.09 72.5 L156.59 72.51 L163.08 72.52 L169.58 72.53 L176.08 72.55 L182.57 72.56 L189.07 72.57 L195.56 72.59 L202.06 72.61 L208.55 72.62 L215.05 72.64 L221.55 72.66 L228.04 72.68 L234.54 72.71 L241.03 72.73 L247.53 72.76 L254.02 72.79 L260.52 72.82 L267.02 72.85 L273.51 72.88 L280.01 72.92 L286.5 72.96 L293 73 L299.49 73.04 L305.99 73.09 L312.48 73.14 L318.98 73.19 L325.48 73.25 L331.97 73.33 L338.47 73.42 L344.96 73.52 L351.46 73.64 L357.95 73.77 L364.45 73.91 L370.95 74.07 L377.44 74.23 L383.94 74.4 L390.43 74.59 L396.93 74.78 L403.42 74.97 L409.92 75.17 L416.41 75.38 L422.91 75.6 L429.41 75.88 L435.9 76.21 L442.4 76.57 L448.89 76.97 L455.39 77.37 L461.88 77.78 L468.38 78.17 L474.88 78.53 L481.37 78.86 L487.87 79.13 L494.36 79.32 L500.86 79.45 L507.35 79.54 L513.85 79.65 L520.34 79.8 L526.84 80.04 L533.34 81 L539.83 83.47 L546.33 84.69 L552.82 85.77 L559.32 86.6 L565.81 87.1 L572.31 87.2 L578.81 87.2 L585.3 87.2 L591.8 87.2 L598.29 87.2 L604.79 87.2 L611.28 87.2 L617.78 87.2 L624.27 87.2 L630.77 87.2 L637.27 87.2 L643.76 87.2 L650.26 87.2 L656.75 87.2 L663.25 87.2 L669.74 87.2 L676.24 87.2 L682.74 87.2 L689.23 87.2 L695.73 87.2 L702.22 87.2 L708.72 87.2" stroke="#2297E6"/>
<path d="M85.14 71.3 L91.63 71.37 L98.13 71.44 L104.62 71.51 L111.12 71.58 L117.62 71.65 L124.11 71.72 L130.61 71.79 L137.1 71.86 L143.6 71.93 L150.09 72 L156.59 72.07 L163.08 72.15 L169.58 72.22 L176.08 72.3 L182.57 72.38 L189.07 72.46 L195.56 72.54 L202.06 72.63 L208.55 72.72 L215.05 72.81 L221.55 72.9 L228.04 72.99 L234.54 73.09 L241.03 73.19 L247.53 73.29 L254.02 73.39 L260.52 73.49 L267.02 73.6 L273.51 73.71 L280.01 73.83 L286.5 73.94 L293 74.06 L299.49 74.19 L305.99 74.31 L312.48 74.44 L318.98 74.58 L325.48 74.72 L331.97 74.86 L338.47 75.01 L344.96 75.16 L351.46 75.31 L357.95 75.48 L364.45 75.64 L370.95 75.82 L377.44 76 L383.94 76.19 L390.43 76.39 L396.93 76.59 L403.42 76.81 L409.92 77.03 L416.41 77.27 L422.91 77.51 L429.41 77.81 L435.9 78.13 L442.4 78.5 L448.89 78.88 L455.39 79.27 L461.88 79.67 L468.38 80.06 L474.88 80.44 L481.37 80.79 L487.87 81.1 L494.36 81.37 L500.86 81.57 L507.35 81.75 L513.85 81.93 L520.34 82.17 L526.84 82.5 L533.34 83.11 L539.83 84.5 L546.33 85.69 L552.82 86.66 L559.32 87.19 L565.81 87.2 L572.31 87.2 L578.81 87.2 L585.3 87.2 L591.8 87.2 L598.29 87.2 L604.79 87.2 L611.28 87.2 L617.78 87.2 L624.27 87.2 L630.77 87.2 L637.27 87.2 L643.76 87.2 L650.26 87.2 L656.75 87.2 L663.25 87.2 L669.74 87.2 L676.24 87.2 L682.74 87.2 L689.23 87.2 L695.73 87.2 L702.22 87.2 L708.72 87.2" stroke="#CD0BBC"/>
<path d="M85.14 70.1 L91.63 70.19 L98.13 70.28 L104.62 70.35 L111.12 70.42 L117.62 70.49 L124.11 70.55 L130.61 70.62 L137.1 70.69 L143.6 70.76 L150.09 70.84 L156.59 70.93 L163.08 71.04 L169.58 71.16 L176.08 71.29 L182.57 71.44 L189.07 71.62 L195.56 71.82 L202.06 72.28 L208.55 73.09 L215.05 74.1 L221.55 75.18 L228.04 76.22 L234.54 77.13 L241.03 78.02 L247.53 78.93 L254.02 79.86 L260.52 80.85 L267.02 81.91 L273.51 83.13 L280.01 84.36 L286.5 85.44 L293 86.56 L299.49 87.2 L305.99 87.2 L312.48 87.2 L318.98 87.2 L325.48 87.2 L331.97 87.2 L338.47 87.2 L344.96 87.2 L351.46 87.2 L357.95 87.2 L364.45 87.2 L370.95 87.2 L377.44 87.2 L383.94 87.2 L390.43 87.2 L396.93 87.2 L403.42 87.2 L409.92 87.2 L416.41 87.2 L422.91 87.2 L429.41 87.2 L435.9 87.2 L442.4 87.2 L448.89 87.2 L455.39 87.2 L461.88 87.2 L468.38 87.2 L474.88 87.2 L481.37 87.2 L487.87 87.2 L494.36 87.2 L500.86 87.2 L507.35 87.2 L513.85 87.2 L520.34 87.2 L526.84 87.2 L533.34 87.2 L539.83 87.2 L546.33 87.2 L552.82 87.2 L559.32 87.2 L565.81 87.2 L572.31 87.2 L578.81 87.2 L585.3 87.2 L591.8 87.2 L598.29 87.2 L604.79 87.2 L611.28 87.2 L617.78 87.2 L624.27 87.2 L630.77 87.2 L637.27 87.2 L643.76 87.2 L650.26 87.2 L656.75 87.2 L663.25 87.2 L669.74 87.2 L676.24 87.2 L682.74 87.2 L689.23 87.2 L695.73 87.2 L702.22 87.2 L708.72 87.2" stroke="#000000"/>
<path d="M85.14 66 L91.63 65.99 L98.13 65.99 L104.62 65.98 L111.12 65.97 L117.62 65.97 L124.11 65.96 L130.61 65.95 L137.1 65.94 L143.6 65.94 L150.09 65.93 L156.59 65.92 L163.08 65.92 L169.58 65.91 L176.08 65.91 L182.57 65.9 L189.07 65.9 L195.56 65.9 L202.06 65.9 L208.55 65.9 L215.05 65.91 L221.55 65.91 L228.04 65.92 L234.54 65.93 L241.03 65.94 L247.53 65.95 L254.02 65.97 L260.52 65.98 L267.02 66 L273.51 66.02 L280.01 66.04 L286.5 66.06 L293 66.09 L299.49 66.11 L305.99 66.14 L312.48 66.17 L318.98 66.2 L325.48 66.23 L331.97 66.29 L338.47 66.37 L344.96 66.47 L351.46 66.58 L357.95 66.71 L364.45 66.86 L370.95 67.02 L377.44 67.19 L383.94 67.38 L390.43 67.58 L396.93 67.79 L403.42 68.01 L409.92 68.23 L416.41 68.47 L422.91 68.71 L429.41 69.02 L435.9 69.37 L442.4 69.78 L448.89 70.24 L455.39 70.72 L461.88 71.24 L468.38 71.77 L474.88 72.32 L481.37 72.87 L487.87 73.42 L494.36 73.97 L500.86 74.54 L507.35 75.15 L513.85 75.78 L520.34 76.45 L526.84 77.15 L533.34 77.9 L539.83 78.75 L546.33 79.65 L552.82 80.56 L559.32 81.42 L565.81 82.2 L572.31 82.96 L578.81 83.7 L585.3 84.43 L591.8 85.13 L598.29 85.82 L604.79 86.6 L611.28 87.19 L617.78 87.2 L624.27 87.2 L630.77 87.2 L637.27 87.2 L643.76 87.2 L650.26 87.2 L656.75 87.2 L663.25 87.2 L669.74 87.2 L676.24 87.2 L682.74 87.2 L689.23 87.2 L695.73 87.2 L702.22 87.2 L708.72 87.2" stroke="#61D04F"/>
<path d="M85.14 73.4 L91.63 73.25 L98.13 73.12 L104.62 73 L111.12 72.89 L117.62 72.79 L124.11 72.68 L130.61 72.58 L137.1 72.48 L143.6 72.37 L150.09 72.25 L156.59 72.12 L163.08 71.98 L169.58 71.82 L176.08 71.64 L182.57 71.44 L189.07 71.22 L195.56 70.97 L202.06 70.69 L208.55 70.27 L215.05 69.45 L221.55 68.35 L228.04 67.12 L234.54 65.91 L241.03 64.84 L247.53 63.69 L254.02 62.46 L260.52 61.39 L267.02 60.72 L273.51 60.55 L280.01 60.48 L286.5 60.43 L293 60.4 L299.49 60.41 L305.99 60.48 L312.48 60.6 L318.98 60.75 L325.48 60.9 L331.97 61.04 L338.47 61.18 L344.96 61.31 L351.46 61.45 L357.95 61.59 L364.45 61.74 L370.95 61.9 L377.44 62.06 L383.94 62.24 L390.43 62.43 L396.93 62.63 L403.42 62.85 L409.92 63.09 L416.41 63.35 L422.91 63.63 L429.41 63.98 L435.9 64.38 L442.4 64.85 L448.89 65.37 L455.39 65.94 L461.88 66.55 L468.38 67.2 L474.88 67.89 L481.37 68.61 L487.87 69.35 L494.36 70.15 L500.86 71.07 L507.35 72.11 L513.85 73.24 L520.34 74.41 L526.84 75.61 L533.34 76.86 L539.83 78.28 L546.33 79.67 L552.82 80.78 L559.32 81.68 L565.81 82.49 L572.31 83.21 L578.81 83.88 L585.3 84.45 L591.8 84.92 L598.29 85.5 L604.79 86.76 L611.28 87.2 L617.78 87.2 L624.27 87.2 L630.77 87.2 L637.27 87.2 L643.76 87.2 L650.26 87.2 L656.75 87.2 L663.25 87.2 L669.74 87.2 L676.24 87.2 L682.74 87.2 L689.23 87.2 L695.73 87.2 L702.22 87.2 L708.72 87.2" stroke="#61D04F"/>
<path d="M85.14 155.4 L91.63 155 L98.13 154.43 L104.62 153.63 L111.12 152.69 L117.62 151.69 L124.11 150.56 L130.61 149.35 L137.1 148.13 L143.6 146.91 L150.09 145.63 L156.59 144.24 L163.08 142.66 L169.58 140.89 L176.08 138.98 L182.57 136.86 L189.07 134.63 L195.56 132.39 L202.06 130.12 L208.55 127.67 L215.05 124.88 L221.55 121.77 L228.04 118.53 L234.54 115.13 L241.03 111.13 L247.53 106.36 L254.02 100.48 L260.52 94.9 L267.02 90.39 L273.51 87.47 L280.01 87.2 L286.5 87.2 L293 87.2 L299.49 87.2 L305.99 87.2 L312.48 87.2 L318.98 87.2 L325.48 87.2 L331.97 87.2 L338.47 87.2 L344.96 87.2 L351.46 87.2 L357.95 87.2 L364.45 87.2 L370.95 87.2 L377.44 87.2 L383.94 87.2 L390.43 87.2 L396.93 87.2 L403.42 87.2 L409.92 87.2 L416.41 87.2 L422.91 87.2 L429.41 87.2 L435.9 87.2 L442.4 87.2 L448.89 87.2 L455.39 87.2 L461.88 87.2 L468.38 87.2 L474.88 87.2 L481.37 87.2 L487.87 87.2 L494.36 87.2 L500.86 87.2 L507.35 87.2 L513.85 87.2 L520.34 87.2 L526.84 87.2 L533.34 87.2 L539.83 87.2 L546.33 87.2 L552.82 87.2 L559.32 87.2 L565.81 87.2 L572.31 87.2 L578.81 87.2 L585.3 87.2 L591.8 87.2 L598.29 87.2 L604.79 87.2 L611.28 87.2 L617.78 87.2 L624.27 87.2 L630.77 87.2 L637.27 87.2 L643.76 87.2 L650.26 87.2 L656.75 87.2 L663.25 87.2 L669.74 87.2 L676.24 87.2 L682.74 87.2 L689.23 87.2 L695.73 87.2 L702.22 87.2 L708.72 87.2" stroke="#28E2E5"/>
<path d="M85.14 464.5 L91.63 464.16 L98.13 463.84 L104.62 463.48 L111.12 463.04 L117.62 462.44 L124.11 461.7 L130.61 460.87 L137.1 459.99 L143.6 459.1 L150.09 458.16 L156.59 457.16 L163.08 456.12 L169.58 455.02 L176.08 453.9 L182.57 452.73 L189.07 451.54 L195.56 450.3 L202.06 448.98 L208.55 447.56 L215.05 446.02 L221.55 444.38 L228.04 442.57 L234.54 440.56 L241.03 438.3 L247.53 435.73 L254.02 432.85 L260.52 429.68 L267.02 426.24 L273.51 422.39 L280.01 417.87 L286.5 412.62 L293 406.54 L299.49 399.98 L305.99 393.23 L312.48 386.06 L318.98 378.69 L325.48 371.42 L331.97 364.35 L338.47 357.07 L344.96 349.14 L351.46 340.23 L357.95 330.66 L364.45 320.83 L370.95 311.05 L377.44 300.99 L383.94 290.99 L390.43 281.69 L396.93 271.47 L403.42 257.59 L409.92 243.31 L416.41 228.75 L422.91 214 L429.41 199.29 L435.9 182.83 L442.4 163.79 L448.89 141.88 L455.39 120.13 L461.88 100.02 L468.38 87.42 L474.88 87.2 L481.37 87.2 L487.87 87.2 L494.36 87.2 L500.86 87.2 L507.35 87.2 L513.85 87.2 L520.34 87.2 L526.84 87.2 L533.34 87.2 L539.83 87.2 L546.33 87.2 L552.82 87.2 L559.32 87.2 L565.81 87.2 L572.31 87.2 L578.81 87.2 L585.3 87.2 L591.8 87.2 L598.29 87.2 L604.79 87.2 L611.28 87.2 L617.78 87.2 L624.27 87.2 L630.77 87.2 L637.27 87.2 L643.76 87.2 L650.26 87.2 L656.75 87.2 L663.25 87.2 L669.74 87.2 L676.24 87.2 L682.74 87.2 L689.23 87.2 L695.73 87.2 L702.22 87.2 L708.72 87.2" stroke="#61D04F"/>
<path d="M85.14 86 L91.63 86.01 L98.13 86.02 L104.62 86.03 L111.12 86.03 L117.62 86.04 L124.11 86.05 L130.61 86.06 L137.1 86.07 L143.6 86.07 L150.09 86.08 L156.59 86.09 L163.08 86.1 L169.58 86.1 L176.08 86.11 L182.57 86.12 L189.07 86.13 L195.56 86.14 L202.06 86.14 L208.55 86.15 L215.05 86.16 L221.55 86.17 L228.04 86.18 L234.54 86.19 L241.03 86.2 L247.53 86.21 L254.02 86.22 L260.52 86.23 L267.02 86.24 L273.51 86.25 L280.01 86.26 L286.5 86.27 L293 86.29 L299.49 86.3 L305.99 86.31 L312.48 86.33 L318.98 86.34 L325.48 86.36 L331.97 86.37 L338.47 86.39 L344.96 86.41 L351.46 86.42 L357.95 86.44 L364.45 86.46 L370.95 86.49 L377.44 86.51 L383.94 86.53 L390.43 86.56 L396.93 86.59 L403.42 86.62 L409.92 86.65 L416.41 86.68 L422.91 86.72 L429.41 86.78 L435.9 86.86 L442.4 86.95 L448.89 87.04 L455.39 87.11 L461.88 87.17 L468.38 87.2 L474.88 87.2 L481.37 87.2 L487.87 87.2 L494.36 87.2 L500.86 87.2 L507.35 87.2 L513.85 87.2 L520.34 87.2 L526.84 87.2 L533.34 87.2 L539.83 87.2 L546.33 87.2 L552.82 87.2 L559.32 87.2 L565.81 87.2 L572.31 87.2 L578.81 87.2 L585.3 87.2 L591.8 87.2 L598.29 87.2 L604.79 87.2 L611.28 87.2 L617.78 87.2 L624.27 87.2 L630.77 87.2 L637.27 87.2 L643.76 87.2 L650.26 87.2 L656.75 87.2 L663.25 87.2 L669.74 87.2 L676.24 87.2 L682.74 87.2 L689.23 87.2 L695.73 87.2 L702.22 87.2 L708.72 87.2" stroke="#000000"/>
<path d="M85.14 88.4 L91.63 88.38 L98.13 88.35 L104.62 88.32 L111.12 88.29 L117.62 88.26 L124.11 88.23 L130.61 88.2 L137.1 88.17 L143.6 88.15 L150.09 88.12 L156.59 88.09 L163.08 88.07 L169.58 88.05 L176.08 88.03 L182.57 88.02 L189.07 88.01 L195.56 88 L202.06 88 L208.55 88 L215.05 88 L221.55 88 L228.04 88 L234.54 88 L241.03 88 L247.53 88 L254.02 88 L260.52 88 L267.02 88 L273.51 88 L280.01 88 L286.5 88 L293 88 L299.49 88 L305.99 88 L312.48 88 L318.98 88 L325.48 88 L331.97 88 L338.47 88 L344.96 88 L351.46 88 L357.95 88 L364.45 88 L370.95 88 L377.44 88 L383.94 88 L390.43 88 L396.93 88 L403.42 88 L409.92 88 L416.41 88 L422.91 88 L429.41 88 L435.9 88 L442.4 88 L448.89 88 L455.39 88 L461.88 88 L468.38 88 L474.88 88 L481.37 88 L487.87 88 L494.36 88 L500.86 88 L507.35 88 L513.85 88 L520.34 88 L526.84 88 L533.34 88 L539.83 88 L546.33 88 L552.82 88 L559.32 88 L565.81 88 L572.31 88 L578.81 88 L585.3 88 L591.8 88 L598.29 88 L604.79 87.97 L611.28 87.85 L617.78 87.68 L624.27 87.49 L630.77 87.32 L637.27 87.22 L643.76 87.2 L650.26 87.2 L656.75 87.2 L663.25 87.2 L669.74 87.2 L676.24 87.2 L682.74 87.2 L689.23 87.2 L695.73 87.2 L702.22 87.2 L708.72 87.2" stroke="#000000"/>
<path d="M85.14 68.8 L91.63 68.86 L98.13 68.91 L104.62 68.96 L111.12 69.01 L117.62 69.06 L124.11 69.11 L130.61 69.16 L137.1 69.21 L143.6 69.26 L150.09 69.32 L156.59 69.37 L163.08 69.43 L169.58 69.48 L176.08 69.55 L182.57 69.61 L189.07 69.68 L195.56 69.75 L202.06 69.82 L208.55 69.91 L215.05 70 L221.55 70.09 L228.04 70.19 L234.54 70.3 L241.03 70.41 L247.53 70.53 L254.02 70.65 L260.52 70.77 L267.02 70.9 L273.51 71.03 L280.01 71.16 L286.5 71.3 L293 71.43 L299.49 71.57 L305.99 71.71 L312.48 71.84 L318.98 71.98 L325.48 72.11 L331.97 72.25 L338.47 72.39 L344.96 72.52 L351.46 72.67 L357.95 72.81 L364.45 72.95 L370.95 73.1 L377.44 73.26 L383.94 73.41 L390.43 73.58 L396.93 73.75 L403.42 73.92 L409.92 74.1 L416.41 74.29 L422.91 74.49 L429.41 74.72 L435.9 74.97 L442.4 75.25 L448.89 75.53 L455.39 75.82 L461.88 76.11 L468.38 76.39 L474.88 76.66 L481.37 76.91 L487.87 77.13 L494.36 77.32 L500.86 77.47 L507.35 77.6 L513.85 77.73 L520.34 77.89 L526.84 78.08 L533.34 78.37 L539.83 78.85 L546.33 79.42 L552.82 79.93 L559.32 80.41 L565.81 80.88 L572.31 81.34 L578.81 81.81 L585.3 82.26 L591.8 82.72 L598.29 83.18 L604.79 83.63 L611.28 84.04 L617.78 84.47 L624.27 84.93 L630.77 85.47 L637.27 86.37 L643.76 87.13 L650.26 87.2 L656.75 87.2 L663.25 87.2 L669.74 87.2 L676.24 87.2 L682.74 87.2 L689.23 87.2 L695.73 87.2 L702.22 87.2 L708.72 87.2" stroke="#2297E6"/>
</g></g>
<rect x="60" y="44" width="674" height="437" fill="none" stroke="#000" stroke-width="1"/>
<line x1="130.05" y1="481" x2="130.05" y2="488" stroke="#000"/>
<text x="130.05" y="505" text-anchor="middle" font-family="'Liberation Sans', Arial, sans-serif" stroke="#000" stroke-width="0.25" font-size="12">-10</text>
<line x1="269.69" y1="481" x2="269.69" y2="488" stroke="#000"/>
<text x="269.69" y="505" text-anchor="middle" font-family="'Liberation Sans', Arial, sans-serif" stroke="#000" stroke-width="0.25" font-size="12">-8</text>
<line x1="409.33" y1="481" x2="409.33" y2="488" stroke="#000"/>
<text x="409.33" y="505" text-anchor="middle" font-family="'Liberation Sans', Arial, sans-serif" stroke="#000" stroke-width="0.25" font-size="12">-6</text>
<line x1="548.97" y1="481" x2="548.97" y2="488" stroke="#000"/>
<text x="548.97" y="505" text-anchor="middle" font-family="'Liberation Sans', Arial, sans-serif" stroke="#000" stroke-width="0.25" font-size="12">-4</text>
<line x1="688.61" y1="481" x2="688.61" y2="488" stroke="#000"/>
<text x="688.61" y="505" text-anchor="middle" font-family="'Liberation Sans', Arial, sans-serif" stroke="#000" stroke-width="0.25" font-size="12">-2</text>
<line x1="130.05" y1="44" x2="130.05" y2="39.5" stroke="#000"/>
<text x="130.05" y="28.8" text-anchor="middle" font-family="'Liberation Sans', Arial, sans-serif" stroke="#000" stroke-width="0.25" font-size="12">52</text>
<line x1="269.69" y1="44" x2="269.69" y2="39.5" stroke="#000"/>
<text x="269.69" y="28.8" text-anchor="middle" font-family="'Liberation Sans', Arial, sans-serif" stroke="#000" stroke-width="0.25" font-size="12">48</text>
<line x1="409.33" y1="44" x2="409.33" y2="39.5" stroke="#000"/>
<text x="409.33" y="28.8" text-anchor="middle" font-family="'Liberation Sans', Arial, sans-serif" stroke="#000" stroke-width="0.25" font-size="12">46</text>
<line x1="548.97" y1="44" x2="548.97" y2="39.5" stroke="#000"/>
<text x="548.97" y="28.8" text-anchor="middle" font-family="'Liberation Sans', Arial, sans-serif" stroke="#000" stroke-width="0.25" font-size="12">28</text>
<line x1="688.61" y1="44" x2="688.61" y2="39.5" stroke="#000"/>
<text x="688.61" y="28.8" text-anchor="middle" font-family="'Liberation Sans', Arial, sans-serif" stroke="#000" stroke-width="0.25" font-size="12">1</text>
<line x1="60" y1="87.2" x2="53" y2="87.2" stroke="#000"/>
<text transform="translate(43.3 87.2) rotate(-90)" x="0" y="0" text-anchor="middle" font-family="'Liberation Sans', Arial, sans-serif" stroke="#000" stroke-width="0.25" font-size="12">0</text>
<line x1="60" y1="211.42" x2="53" y2="211.42" stroke="#000"/>
<text transform="translate(43.3 211.42) rotate(-90)" x="0" y="0" text-anchor="middle" font-family="'Liberation Sans', Arial, sans-serif" stroke="#000" stroke-width="0.25" font-size="12">-5</text>
<line x1="60" y1="335.63" x2="53" y2="335.63" stroke="#000"/>
<text transform="translate(43.3 335.63) rotate(-90)" x="0" y="0" text-anchor="middle" font-family="'Liberation Sans', Arial, sans-serif" stroke="#000" stroke-width="0.25" font-size="12">-10</text>
<line x1="60" y1="459.84" x2="53" y2="459.84" stroke="#000"/>
<text transform="translate(43.3 459.84) rotate(-90)" x="0" y="0" text-anchor="middle" font-family="'Liberation Sans', Arial, sans-serif" stroke="#000" stroke-width="0.25" font-size="12">-15</text>
<text x="401.7" y="535.2" text-anchor="middle" font-family="'Liberation Serif', 'Times New Roman', serif" font-weight="bold" font-size="28" fill="#222">Log Lambda</text>
<text transform="translate(21.7 263.2) rotate(-90)" text-anchor="middle" font-family="'Liberation Serif', 'Times New Roman', serif" font-weight="bold" font-size="28.3" fill="#222">Coefficients</text>
<text x="21.8" y="28.7" text-anchor="middle" font-family="'Liberation Serif', 'Times New Roman', serif" font-weight="bold" font-size="40" fill="#222">A</text>
<g stroke="#A9A9A9" stroke-width="1" fill="none" shape-rendering="crispEdges" filter="url(#bx)"><g transform="translate(-0.5 -0.5)">
<path d="M1471.77 316.93V359.45M1465.37 316.93H1478.17M1465.37 359.45H1478.17"/>
<path d="M1465.27 328.1V370.65M1458.87 328.1H1471.67M1458.87 370.65H1471.67"/>
<path d="M1458.78 337.13V381.2M1452.38 337.13H1465.18M1452.38 381.2H1465.18"/>
<path d="M1452.28 344.4V390.94M1445.88 344.4H1458.68M1445.88 390.94H1458.68"/>
<path d="M1445.79 350.3V399.72M1439.39 350.3H1452.19M1439.39 399.72H1452.19"/>
<path d="M1439.29 355.21V407.4M1432.89 355.21H1445.69M1432.89 407.4H1445.69"/>
<path d="M1432.79 359.51V413.81M1426.39 359.51H1439.19M1426.39 413.81H1439.19"/>
<path d="M1426.3 363.59V418.97M1419.9 363.59H1432.7M1419.9 418.97H1432.7"/>
<path d="M1419.8 367.79V423.56M1413.4 367.79H1426.2M1413.4 423.56H1426.2"/>
<path d="M1413.31 372.44V428.41M1406.91 372.44H1419.71M1406.91 428.41H1419.71"/>
<path d="M1406.81 377.71V434.1M1400.41 377.71H1413.21M1400.41 434.1H1413.21"/>
<path d="M1400.32 383.12V440.18M1393.92 383.12H1406.72M1393.92 440.18H1406.72"/>
<path d="M1393.82 388.01V445.93M1387.42 388.01H1400.22M1387.42 445.93H1400.22"/>
<path d="M1387.32 391.85V450.78M1380.92 391.85H1393.72M1380.92 450.78H1393.72"/>
<path d="M1380.83 394.6V454.68M1374.43 394.6H1387.23M1374.43 454.68H1387.23"/>
<path d="M1374.33 396.36V457.74M1367.93 396.36H1380.73M1367.93 457.74H1380.73"/>
<path d="M1367.84 397.22V460.05M1361.44 397.22H1374.24M1361.44 460.05H1374.24"/>
<path d="M1361.34 397.27V461.71M1354.94 397.27H1367.74M1354.94 461.71H1367.74"/>
<path d="M1354.85 396.61V462.83M1348.45 396.61H1361.25M1348.45 462.83H1361.25"/>
<path d="M1348.35 395.32V463.49M1341.95 395.32H1354.75M1341.95 463.49H1354.75"/>
<path d="M1341.86 393.49V463.79M1335.46 393.49H1348.26M1335.46 463.79H1348.26"/>
<path d="M1335.36 391.22V463.85M1328.96 391.22H1341.76M1328.96 463.85H1341.76"/>
<path d="M1328.86 388.6V463.74M1322.46 388.6H1335.26M1322.46 463.74H1335.26"/>
<path d="M1322.37 385.73V463.58M1315.97 385.73H1328.77M1315.97 463.58H1328.77"/>
<path d="M1315.87 382.68V463.45M1309.47 382.68H1322.27M1309.47 463.45H1322.27"/>
<path d="M1309.38 379.54V463.44M1302.98 379.54H1315.78M1302.98 463.44H1315.78"/>
<path d="M1302.88 376.25V463.47M1296.48 376.25H1309.28M1296.48 463.47H1309.28"/>
<path d="M1296.39 372.74V463.48M1289.99 372.74H1302.79M1289.99 463.48H1302.79"/>
<path d="M1289.89 368.94V463.38M1283.49 368.94H1296.29M1283.49 463.38H1296.29"/>
<path d="M1283.39 364.79V463.09M1276.99 364.79H1289.79M1276.99 463.09H1289.79"/>
<path d="M1276.9 360.21V462.52M1270.5 360.21H1283.3M1270.5 462.52H1283.3"/>
<path d="M1270.4 355.12V461.58M1264 355.12H1276.8M1264 461.58H1276.8"/>
<path d="M1263.91 349.47V460.21M1257.51 349.47H1270.31M1257.51 460.21H1270.31"/>
<path d="M1257.41 343.18V458.31M1251.01 343.18H1263.81M1251.01 458.31H1263.81"/>
<path d="M1250.92 336.17V455.8M1244.52 336.17H1257.32M1244.52 455.8H1257.32"/>
<path d="M1244.42 328.38V452.6M1238.02 328.38H1250.82M1238.02 452.6H1250.82"/>
<path d="M1237.93 319.74V448.62M1231.53 319.74H1244.33M1231.53 448.62H1244.33"/>
<path d="M1231.43 310.2V443.82M1225.03 310.2H1237.83M1225.03 443.82H1237.83"/>
<path d="M1224.93 299.84V438.29M1218.53 299.84H1231.33M1218.53 438.29H1231.33"/>
<path d="M1218.44 288.77V432.15M1212.04 288.77H1224.84M1212.04 432.15H1224.84"/>
<path d="M1211.94 277.09V425.54M1205.54 277.09H1218.34M1205.54 425.54H1218.34"/>
<path d="M1205.45 264.9V418.56M1199.05 264.9H1211.85M1199.05 418.56H1211.85"/>
<path d="M1198.95 252.32V411.36M1192.55 252.32H1205.35M1192.55 411.36H1205.35"/>
<path d="M1192.46 239.47V404.05M1186.06 239.47H1198.86M1186.06 404.05H1198.86"/>
<path d="M1185.96 226.69V396.83M1179.56 226.69H1192.36M1179.56 396.83H1192.36"/>
<path d="M1179.46 214.33V389.88M1173.06 214.33H1185.86M1173.06 389.88H1185.86"/>
<path d="M1172.97 202.74V383.37M1166.57 202.74H1179.37M1166.57 383.37H1179.37"/>
<path d="M1166.47 192.29V377.49M1160.07 192.29H1172.87M1160.07 377.49H1172.87"/>
<path d="M1159.98 183.32V372.44M1153.58 183.32H1166.38M1153.58 372.44H1166.38"/>
<path d="M1153.48 176.06V368.34M1147.08 176.06H1159.88M1147.08 368.34H1159.88"/>
<path d="M1146.99 170.14V365.18M1140.59 170.14H1153.39M1140.59 365.18H1153.39"/>
<path d="M1140.49 165.04V362.9M1134.09 165.04H1146.89M1134.09 362.9H1146.89"/>
<path d="M1134 160.32V361.37M1127.6 160.32H1140.4M1127.6 361.37H1140.4"/>
<path d="M1127.5 155.73V360.26M1121.1 155.73H1133.9M1121.1 360.26H1133.9"/>
<path d="M1121 151.11V359.17M1114.6 151.11H1127.4M1114.6 359.17H1127.4"/>
<path d="M1114.51 146.3V357.79M1108.11 146.3H1120.91M1108.11 357.79H1120.91"/>
<path d="M1108.01 141.39V356.09M1101.61 141.39H1114.41M1101.61 356.09H1114.41"/>
<path d="M1101.52 136.47V354.14M1095.12 136.47H1107.92M1095.12 354.14H1107.92"/>
<path d="M1095.02 131.67V351.97M1088.62 131.67H1101.42M1088.62 351.97H1101.42"/>
<path d="M1088.53 127.09V349.65M1082.13 127.09H1094.93M1082.13 349.65H1094.93"/>
<path d="M1082.03 122.84V347.22M1075.63 122.84H1088.43M1075.63 347.22H1088.43"/>
<path d="M1075.53 119V344.76M1069.13 119H1081.93M1069.13 344.76H1081.93"/>
<path d="M1069.04 115.44V342.39M1062.64 115.44H1075.44M1062.64 342.39H1075.44"/>
<path d="M1062.54 111.98V340.26M1056.14 111.98H1068.94M1056.14 340.26H1068.94"/>
<path d="M1056.05 108.52V338.47M1049.65 108.52H1062.45M1049.65 338.47H1062.45"/>
<path d="M1049.55 105.14V336.89M1043.15 105.14H1055.95M1043.15 336.89H1055.95"/>
<path d="M1043.06 102V335.35M1036.66 102H1049.46M1036.66 335.35H1049.46"/>
<path d="M1036.56 99.22V333.7M1030.16 99.22H1042.96M1030.16 333.7H1042.96"/>
<path d="M1030.07 96.76V331.96M1023.67 96.76H1036.47M1023.67 331.96H1036.47"/>
<path d="M1023.57 94.57V330.15M1017.17 94.57H1029.97M1017.17 330.15H1029.97"/>
<path d="M1017.07 92.58V328.31M1010.67 92.58H1023.47M1010.67 328.31H1023.47"/>
<path d="M1010.58 90.74V326.47M1004.18 90.74H1016.98M1004.18 326.47H1016.98"/>
<path d="M1004.08 88.98V324.68M997.68 88.98H1010.48M997.68 324.68H1010.48"/>
<path d="M997.59 87.26V322.96M991.19 87.26H1003.99M991.19 322.96H1003.99"/>
<path d="M991.09 85.56V321.33M984.69 85.56H997.49M984.69 321.33H997.49"/>
<path d="M984.6 83.9V319.76M978.2 83.9H991M978.2 319.76H991"/>
<path d="M978.1 82.26V318.28M971.7 82.26H984.5M971.7 318.28H984.5"/>
<path d="M971.6 80.66V316.86M965.2 80.66H978M965.2 316.86H978"/>
<path d="M965.11 79.09V315.52M958.71 79.09H971.51M958.71 315.52H971.51"/>
<path d="M958.61 77.57V314.25M952.21 77.57H965.01M952.21 314.25H965.01"/>
<path d="M952.12 76.08V313.05M945.72 76.08H958.52M945.72 313.05H958.52"/>
<path d="M945.62 74.65V311.92M939.22 74.65H952.02M939.22 311.92H952.02"/>
<path d="M939.13 73.26V310.85M932.73 73.26H945.53M932.73 310.85H945.53"/>
<path d="M932.63 71.92V309.86M926.23 71.92H939.03M926.23 309.86H939.03"/>
<path d="M926.13 70.63V308.92M919.73 70.63H932.53M919.73 308.92H932.53"/>
<path d="M919.64 69.4V308.05M913.24 69.4H926.04M913.24 308.05H926.04"/>
<path d="M913.14 68.23V307.24M906.74 68.23H919.54M906.74 307.24H919.54"/>
<path d="M906.65 67.12V306.49M900.25 67.12H913.05M900.25 306.49H913.05"/>
<path d="M900.15 66.07V305.8M893.75 66.07H906.55M893.75 305.8H906.55"/>
<path d="M893.66 65.09V305.16M887.26 65.09H900.06M887.26 305.16H900.06"/>
<path d="M887.16 64.18V304.58M880.76 64.18H893.56M880.76 304.58H893.56"/>
<path d="M880.67 63.35V304.06M874.27 63.35H887.07M874.27 304.06H887.07"/>
<path d="M874.17 62.58V303.59M867.77 62.58H880.57M867.77 303.59H880.57"/>
<path d="M867.67 61.9V303.17M861.27 61.9H874.07M861.27 303.17H874.07"/>
<path d="M861.18 61.29V302.8M854.78 61.29H867.58M854.78 302.8H867.58"/>
<path d="M854.68 60.77V302.48M848.28 60.77H861.08M848.28 302.48H861.08"/>
<path d="M848.19 60.33V302.21M841.79 60.33H854.59M841.79 302.21H854.59"/>
</g></g>
<g fill="#FF0000">
<circle cx="1471.77" cy="339" r="2.1"/>
<circle cx="1465.27" cy="348" r="2.1"/>
<circle cx="1458.78" cy="359.3" r="2.1"/>
<circle cx="1452.28" cy="367.4" r="2.1"/>
<circle cx="1445.79" cy="375.4" r="2.1"/>
<circle cx="1439.29" cy="381.8" r="2.1"/>
<circle cx="1432.79" cy="387.3" r="2.1"/>
<circle cx="1426.3" cy="391.5" r="2.1"/>
<circle cx="1419.8" cy="395.7" r="2.1"/>
<circle cx="1413.31" cy="399.4" r="2.1"/>
<circle cx="1406.81" cy="404.9" r="2.1"/>
<circle cx="1400.32" cy="411.8" r="2.1"/>
<circle cx="1393.82" cy="417.3" r="2.1"/>
<circle cx="1387.32" cy="421.7" r="2.1"/>
<circle cx="1380.83" cy="424.6" r="2.1"/>
<circle cx="1374.33" cy="426.8" r="2.1"/>
<circle cx="1367.84" cy="428.8" r="2.1"/>
<circle cx="1361.34" cy="429.4" r="2.1"/>
<circle cx="1354.85" cy="430.3" r="2.1"/>
<circle cx="1348.35" cy="429.4" r="2.1"/>
<circle cx="1341.86" cy="428.8" r="2.1"/>
<circle cx="1335.36" cy="427.4" r="2.1"/>
<circle cx="1328.86" cy="426.1" r="2.1"/>
<circle cx="1322.37" cy="424.6" r="2.1"/>
<circle cx="1315.87" cy="423" r="2.1"/>
<circle cx="1309.38" cy="421.6" r="2.1"/>
<circle cx="1302.88" cy="419.4" r="2.1"/>
<circle cx="1296.39" cy="418.4" r="2.1"/>
<circle cx="1289.89" cy="416.9" r="2.1"/>
<circle cx="1283.39" cy="414.1" r="2.1"/>
<circle cx="1276.9" cy="410.9" r="2.1"/>
<circle cx="1270.4" cy="408.1" r="2.1"/>
<circle cx="1263.91" cy="404.7" r="2.1"/>
<circle cx="1257.41" cy="400" r="2.1"/>
<circle cx="1250.92" cy="395.6" r="2.1"/>
<circle cx="1244.42" cy="390" r="2.1"/>
<circle cx="1237.93" cy="383.8" r="2.1"/>
<circle cx="1231.43" cy="378.1" r="2.1"/>
<circle cx="1224.93" cy="370.3" r="2.1"/>
<circle cx="1218.44" cy="361.3" r="2.1"/>
<circle cx="1211.94" cy="351.3" r="2.1"/>
<circle cx="1205.45" cy="341.6" r="2.1"/>
<circle cx="1198.95" cy="331.6" r="2.1"/>
<circle cx="1192.46" cy="321.9" r="2.1"/>
<circle cx="1185.96" cy="311.3" r="2.1"/>
<circle cx="1179.46" cy="301.6" r="2.1"/>
<circle cx="1172.97" cy="292.2" r="2.1"/>
<circle cx="1166.47" cy="284.7" r="2.1"/>
<circle cx="1159.98" cy="277.5" r="2.1"/>
<circle cx="1153.48" cy="271.9" r="2.1"/>
<circle cx="1146.99" cy="268.4" r="2.1"/>
<circle cx="1140.49" cy="264.9" r="2.1"/>
<circle cx="1134" cy="262.1" r="2.1"/>
<circle cx="1127.5" cy="258.6" r="2.1"/>
<circle cx="1121" cy="255" r="2.1"/>
<circle cx="1114.51" cy="251.6" r="2.1"/>
<circle cx="1108.01" cy="248.2" r="2.1"/>
<circle cx="1101.52" cy="244.5" r="2.1"/>
<circle cx="1095.02" cy="241" r="2.1"/>
<circle cx="1088.53" cy="238.2" r="2.1"/>
<circle cx="1082.03" cy="234.5" r="2.1"/>
<circle cx="1075.53" cy="231.8" r="2.1"/>
<circle cx="1069.04" cy="229.6" r="2.1"/>
<circle cx="1062.54" cy="226.8" r="2.1"/>
<circle cx="1056.05" cy="224.1" r="2.1"/>
<circle cx="1049.55" cy="222" r="2.1"/>
<circle cx="1043.06" cy="219.1" r="2.1"/>
<circle cx="1036.56" cy="216.3" r="2.1"/>
<circle cx="1030.07" cy="213.6" r="2.1"/>
<circle cx="1023.57" cy="212.1" r="2.1"/>
<circle cx="1017.07" cy="210.1" r="2.1"/>
<circle cx="1010.58" cy="207.9" r="2.1"/>
<circle cx="1004.08" cy="206.6" r="2.1"/>
<circle cx="997.59" cy="205.15" r="2.1"/>
<circle cx="991.09" cy="203.8" r="2.1"/>
<circle cx="984.6" cy="201.7" r="2.1"/>
<circle cx="978.1" cy="200.3" r="2.1"/>
<circle cx="971.6" cy="198.8" r="2.1"/>
<circle cx="965.11" cy="197.5" r="2.1"/>
<circle cx="958.61" cy="196" r="2.1"/>
<circle cx="952.12" cy="194.6" r="2.1"/>
<circle cx="945.62" cy="193.1" r="2.1"/>
<circle cx="939.13" cy="192.5" r="2.1"/>
<circle cx="932.63" cy="191.1" r="2.1"/>
<circle cx="926.13" cy="189.7" r="2.1"/>
<circle cx="919.64" cy="189" r="2.1"/>
<circle cx="913.14" cy="187.6" r="2.1"/>
<circle cx="906.65" cy="186.9" r="2.1"/>
<circle cx="900.15" cy="186.2" r="2.1"/>
<circle cx="893.66" cy="184.8" r="2.1"/>
<circle cx="887.16" cy="184.1" r="2.1"/>
<circle cx="880.67" cy="183.3" r="2.1"/>
<circle cx="874.17" cy="182.7" r="2.1"/>
<circle cx="867.67" cy="182.7" r="2.1"/>
<circle cx="861.18" cy="182.1" r="2.1"/>
<circle cx="854.68" cy="182.1" r="2.1"/>
<circle cx="848.19" cy="181.2" r="2.1"/>
</g>
<line x1="1355.5" y1="44.5" x2="1355.5" y2="480.5" stroke="#222" stroke-width="1" stroke-dasharray="1.3 1.55"/>
<line x1="1413.5" y1="44.5" x2="1413.5" y2="480.5" stroke="#222" stroke-width="1" stroke-dasharray="1.3 1.55"/>
<rect x="823" y="44" width="674" height="437" fill="none" stroke="#000" stroke-width="1"/>
<line x1="893.1" y1="481" x2="893.1" y2="488" stroke="#000"/>
<text x="893.1" y="505" text-anchor="middle" font-family="'Liberation Sans', Arial, sans-serif" stroke="#000" stroke-width="0.25" font-size="12">-10</text>
<line x1="1032.74" y1="481" x2="1032.74" y2="488" stroke="#000"/>
<text x="1032.74" y="505" text-anchor="middle" font-family="'Liberation Sans', Arial, sans-serif" stroke="#000" stroke-width="0.25" font-size="12">-8</text>
<line x1="1172.38" y1="481" x2="1172.38" y2="488" stroke="#000"/>
<text x="1172.38" y="505" text-anchor="middle" font-family="'Liberation Sans', Arial, sans-serif" stroke="#000" stroke-width="0.25" font-size="12">-6</text>
<line x1="1312.02" y1="481" x2="1312.02" y2="488" stroke="#000"/>
<text x="1312.02" y="505" text-anchor="middle" font-family="'Liberation Sans', Arial, sans-serif" stroke="#000" stroke-width="0.25" font-size="12">-4</text>
<line x1="1451.66" y1="481" x2="1451.66" y2="488" stroke="#000"/>
<text x="1451.66" y="505" text-anchor="middle" font-family="'Liberation Sans', Arial, sans-serif" stroke="#000" stroke-width="0.25" font-size="12">-2</text>
<line x1="823" y1="406.4" x2="816" y2="406.4" stroke="#000"/>
<text transform="translate(806.3 406.4) rotate(-90)" text-anchor="middle" font-family="'Liberation Sans', Arial, sans-serif" stroke="#000" stroke-width="0.25" font-size="12">1.0</text>
<line x1="823" y1="315.2" x2="816" y2="315.2" stroke="#000"/>
<text transform="translate(806.3 315.2) rotate(-90)" text-anchor="middle" font-family="'Liberation Sans', Arial, sans-serif" stroke="#000" stroke-width="0.25" font-size="12">1.2</text>
<line x1="823" y1="224" x2="816" y2="224" stroke="#000"/>
<text transform="translate(806.3 224) rotate(-90)" text-anchor="middle" font-family="'Liberation Sans', Arial, sans-serif" stroke="#000" stroke-width="0.25" font-size="12">1.4</text>
<line x1="823" y1="132.8" x2="816" y2="132.8" stroke="#000"/>
<text transform="translate(806.3 132.8) rotate(-90)" text-anchor="middle" font-family="'Liberation Sans', Arial, sans-serif" stroke="#000" stroke-width="0.25" font-size="12">1.6</text>
<text x="1471.77" y="28.8" text-anchor="middle" font-family="'Liberation Sans', Arial, sans-serif" stroke="#000" stroke-width="0.25" font-size="12">0</text>
<text x="1452.28" y="28.8" text-anchor="middle" font-family="'Liberation Sans', Arial, sans-serif" stroke="#000" stroke-width="0.25" font-size="12">1</text>
<text x="1432.79" y="28.8" text-anchor="middle" font-family="'Liberation Sans', Arial, sans-serif" stroke="#000" stroke-width="0.25" font-size="12">1</text>
<text x="1413.31" y="28.8" text-anchor="middle" font-family="'Liberation Sans', Arial, sans-serif" stroke="#000" stroke-width="0.25" font-size="12">3</text>
<text x="1393.82" y="28.8" text-anchor="middle" font-family="'Liberation Sans', Arial, sans-serif" stroke="#000" stroke-width="0.25" font-size="12">7</text>
<text x="1367.84" y="28.8" text-anchor="middle" font-family="'Liberation Sans', Arial, sans-serif" stroke="#000" stroke-width="0.25" font-size="12">10</text>
<text x="1341.86" y="28.8" text-anchor="middle" font-family="'Liberation Sans', Arial, sans-serif" stroke="#000" stroke-width="0.25" font-size="12">14</text>
<text x="1315.87" y="28.8" text-anchor="middle" font-family="'Liberation Sans', Arial, sans-serif" stroke="#000" stroke-width="0.25" font-size="12">24</text>
<text x="1289.89" y="28.8" text-anchor="middle" font-family="'Liberation Sans', Arial, sans-serif" stroke="#000" stroke-width="0.25" font-size="12">29</text>
<text x="1263.91" y="28.8" text-anchor="middle" font-family="'Liberation Sans', Arial, sans-serif" stroke="#000" stroke-width="0.25" font-size="12">30</text>
<text x="1237.93" y="28.8" text-anchor="middle" font-family="'Liberation Sans', Arial, sans-serif" stroke="#000" stroke-width="0.25" font-size="12">34</text>
<text x="1211.94" y="28.8" text-anchor="middle" font-family="'Liberation Sans', Arial, sans-serif" stroke="#000" stroke-width="0.25" font-size="12">41</text>
<text x="1185.96" y="28.8" text-anchor="middle" font-family="'Liberation Sans', Arial, sans-serif" stroke="#000" stroke-width="0.25" font-size="12">46</text>
<text x="1159.98" y="28.8" text-anchor="middle" font-family="'Liberation Sans', Arial, sans-serif" stroke="#000" stroke-width="0.25" font-size="12">48</text>
<text x="1134" y="28.8" text-anchor="middle" font-family="'Liberation Sans', Arial, sans-serif" stroke="#000" stroke-width="0.25" font-size="12">50</text>
<text x="1108.01" y="28.8" text-anchor="middle" font-family="'Liberation Sans', Arial, sans-serif" stroke="#000" stroke-width="0.25" font-size="12">49</text>
<text x="1082.03" y="28.8" text-anchor="middle" font-family="'Liberation Sans', Arial, sans-serif" stroke="#000" stroke-width="0.25" font-size="12">49</text>
<text x="1056.05" y="28.8" text-anchor="middle" font-family="'Liberation Sans', Arial, sans-serif" stroke="#000" stroke-width="0.25" font-size="12">48</text>
<text x="1030.07" y="28.8" text-anchor="middle" font-family="'Liberation Sans', Arial, sans-serif" stroke="#000" stroke-width="0.25" font-size="12">48</text>
<text x="1004.08" y="28.8" text-anchor="middle" font-family="'Liberation Sans', Arial, sans-serif" stroke="#000" stroke-width="0.25" font-size="12">50</text>
<text x="978.1" y="28.8" text-anchor="middle" font-family="'Liberation Sans', Arial, sans-serif" stroke="#000" stroke-width="0.25" font-size="12">48</text>
<text x="952.12" y="28.8" text-anchor="middle" font-family="'Liberation Sans', Arial, sans-serif" stroke="#000" stroke-width="0.25" font-size="12">52</text>
<text x="926.13" y="28.8" text-anchor="middle" font-family="'Liberation Sans', Arial, sans-serif" stroke="#000" stroke-width="0.25" font-size="12">52</text>
<text x="900.15" y="28.8" text-anchor="middle" font-family="'Liberation Sans', Arial, sans-serif" stroke="#000" stroke-width="0.25" font-size="12">52</text>
<text x="874.17" y="28.8" text-anchor="middle" font-family="'Liberation Sans', Arial, sans-serif" stroke="#000" stroke-width="0.25" font-size="12">52</text>
<text x="848.19" y="28.8" text-anchor="middle" font-family="'Liberation Sans', Arial, sans-serif" stroke="#000" stroke-width="0.25" font-size="12">52</text>
<text x="1164.6" y="535.3" text-anchor="middle" font-family="'Liberation Serif', 'Times New Roman', serif" font-weight="bold" font-size="28" fill="#222">Log (λ)</text>
<text transform="translate(785.8 263.2) rotate(-90)" text-anchor="middle" font-family="'Liberation Serif', 'Times New Roman', serif" font-weight="bold" font-size="28.4" fill="#222">Binomial Deviance</text>
<text x="784.2" y="28.9" text-anchor="middle" font-family="'Liberation Serif', 'Times New Roman', serif" font-weight="bold" font-size="40" fill="#222">B</text>
</svg>
</body></html>
